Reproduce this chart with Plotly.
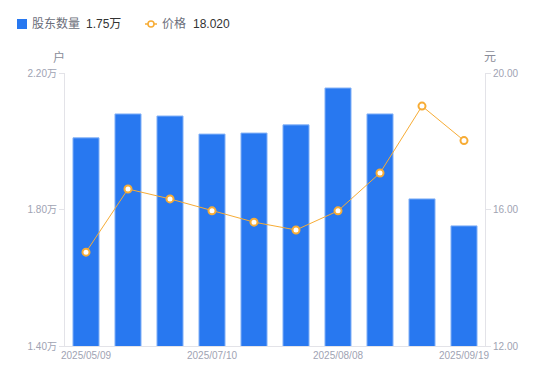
import plotly.graph_objects as go

dates = ["2025/05/09", "2025/05/30", "2025/06/20", "2025/07/10", "2025/07/18",
         "2025/07/31", "2025/08/08", "2025/08/20", "2025/08/29", "2025/09/19"]
holders = [2.010, 2.080, 2.074, 2.021, 2.024, 2.048, 2.156, 2.080, 1.831, 1.752]  # 万户
price = [14.75, 16.60, 16.31, 15.96, 15.63, 15.40, 15.96, 17.07, 19.03, 18.02]
shown_ticks = [dates[0], dates[3], dates[6], dates[9]]
left_ticks = [1.4, 1.8, 2.2]
right_ticks = [12, 16, 20]

BAR = "#2878F0"
LINE = "#F7AC35"
AX = "#E3E3E8"
TICK = "#A0A3B3"
FONT = "Liberation Sans, Noto Sans CJK SC, sans-serif"

L, R, T, B = 65, 65, 73, 35
W, H = 550, 381
pw, ph = W - L - R, H - T - B

def px(x):
    return (x - L) / pw

def py(y):
    return (H - B - y) / ph

fig = go.Figure()
fig.add_trace(go.Bar(x=dates, y=holders,
                     marker=dict(color=BAR, line=dict(width=1, color="#86B3F7")),
                     name="股东数量", showlegend=False))
fig.add_trace(go.Scatter(x=dates, y=price, yaxis="y2", mode="lines+markers",
                         line=dict(color=LINE, width=1),
                         marker=dict(symbol="circle", size=7, color="white",
                                     line=dict(color=LINE, width=2)),
                         name="价格", showlegend=False))

fig.update_layout(
    width=W, height=H,
    margin=dict(l=L, r=R, t=T, b=B, autoexpand=False),
    paper_bgcolor="white", plot_bgcolor="white",
    font=dict(family=FONT, size=10, color=TICK),
    bargap=0.38,
    xaxis=dict(type="category", range=[-0.5, len(dates) - 0.5],
               tickvals=shown_ticks, ticktext=shown_ticks,
               showline=True, linecolor=AX, linewidth=1, showgrid=False,
               ticks="", tickfont=dict(size=10, color=TICK), zeroline=False,
               automargin=False),
    yaxis=dict(range=[1.4, 2.2], tickvals=left_ticks,
               ticktext=[f"{v:.2f}万" for v in left_ticks],
               showline=True, linecolor=AX, linewidth=1, automargin=False,
               showgrid=False, zeroline=False, ticks="outside", ticklen=5,
               tickcolor=AX, tickfont=dict(size=10, color=TICK)),
    yaxis2=dict(range=[12, 20], tickvals=right_ticks,
                ticktext=[f"{v:.2f}" for v in right_ticks], automargin=False,
                overlaying="y", side="right", showline=True, linecolor=AX,
                linewidth=1, showgrid=False, zeroline=False, ticks="outside",
                ticklen=5, tickcolor=AX, tickfont=dict(size=10, color=TICK)),
)

def note(text, x, y, color, size=12, xanchor="center"):
    fig.add_annotation(text=text, x=px(x), y=py(y), xref="paper", yref="paper",
                       xanchor=xanchor, yanchor="middle", showarrow=False,
                       font=dict(size=size, color=color))

# axis unit titles
note("户", 59, 57, "#8A8D99")
note("元", 490, 57, "#8A8D99")

# custom legend
ly = 24
fig.add_shape(type="rect", xref="paper", yref="paper",
              x0=px(17), x1=px(27), y0=py(ly - 5), y1=py(ly + 5),
              fillcolor=BAR, line=dict(width=0))
note("股东数量", 30, ly, "#6B6E7A", xanchor="left")
note(f"{holders[-1]:.2f}万", 84, ly, "#333333", xanchor="left")
fig.add_shape(type="line", xref="paper", yref="paper",
              x0=px(145), x1=px(157), y0=py(ly), y1=py(ly),
              line=dict(color=LINE, width=1.5))
fig.add_shape(type="circle", xref="paper", yref="paper",
              x0=px(148), x1=px(154), y0=py(ly + 3), y1=py(ly - 3),
              fillcolor="white", line=dict(color=LINE, width=1.5))
note("价格", 160, ly, "#6B6E7A", xanchor="left")
note(f"{price[-1]:.3f}", 191, ly, "#333333", xanchor="left")

fig.write_html("out.html", config={"displayModeBar": False},
               post_script="document.body.style.margin='0';")
